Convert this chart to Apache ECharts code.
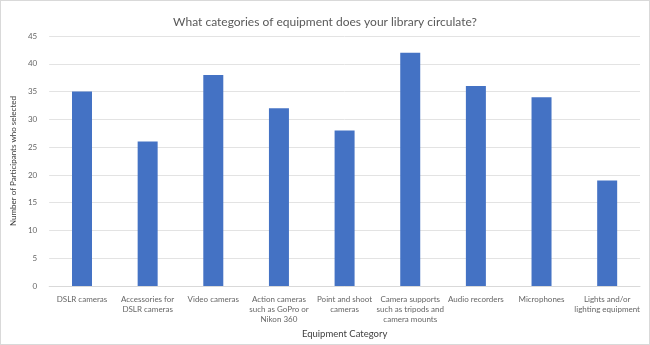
<!DOCTYPE html>
<html>
<head>
<meta charset="utf-8">
<script src="https://cdn.jsdelivr.net/npm/echarts@6/dist/echarts.min.js"></script>
<style>
	html, body { margin: 0; padding: 0; background: #fff; }
	#chart { width: 650px; height: 345px; box-sizing: border-box; border: 1px solid #d9d9d9; }
</style>
</head>
<body>
<div id="chart"></div>
<script>
	const categories = [
		'DSLR cameras',
		'Accessories for\nDSLR cameras',
		'Video cameras',
		'Action cameras\nsuch as GoPro or\nNikon 360',
		'Point and shoot\ncameras',
		'Camera supports\nsuch as tripods and\ncamera mounts',
		'Audio recorders',
		'Microphones',
		'Lights and/or\nlighting equipment'
	]
	const participants = [35, 26, 38, 32, 28, 42, 36, 34, 19]

	const font = 'Lato, "Open Sans", sans-serif'
	const chart = echarts.init(document.getElementById('chart'))

	chart.setOption({
		animation: false,
		textStyle: { fontFamily: font },
		title: {
			text: 'What categories of equipment does your library circulate?',
			left: 'center',
			top: 10,
			textStyle: { fontSize: 12, fontWeight: 'normal', color: '#595959', fontFamily: font }
		},
		grid: {
			left: 40,
			right: 9,
			top: 35,
			bottom: 57
		},
		xAxis: {
			type: 'category',
			data: categories,
			name: 'Equipment Category',
			nameLocation: 'middle',
			nameGap: 40,
			nameTextStyle: { fontSize: 9.5, color: '#404040', fontFamily: font },
			axisLine: { lineStyle: { color: '#d9d9d9' } },
			axisTick: { show: false },
			axisLabel: {
				interval: 0,
				fontSize: 8,
				lineHeight: 10,
				color: '#666666',
				margin: 8,
				fontFamily: font
			}
		},
		yAxis: {
			type: 'value',
			min: 0,
			max: 45,
			interval: 5,
			name: 'Number of Participants who selected',
			nameLocation: 'middle',
			nameGap: 24,
			nameTextStyle: { fontSize: 8, color: '#404040', fontFamily: font },
			axisLine: { show: false },
			axisTick: { show: false },
			axisLabel: { fontSize: 8, color: '#666666', margin: 12, fontFamily: font },
			splitLine: { lineStyle: { color: '#e3e3e3' } }
		},
		series: [
			{
				type: 'bar',
				data: participants,
				barWidth: 20,
				itemStyle: { color: '#4472c4' }
			}
		]
	})
</script>
</body>
</html>
